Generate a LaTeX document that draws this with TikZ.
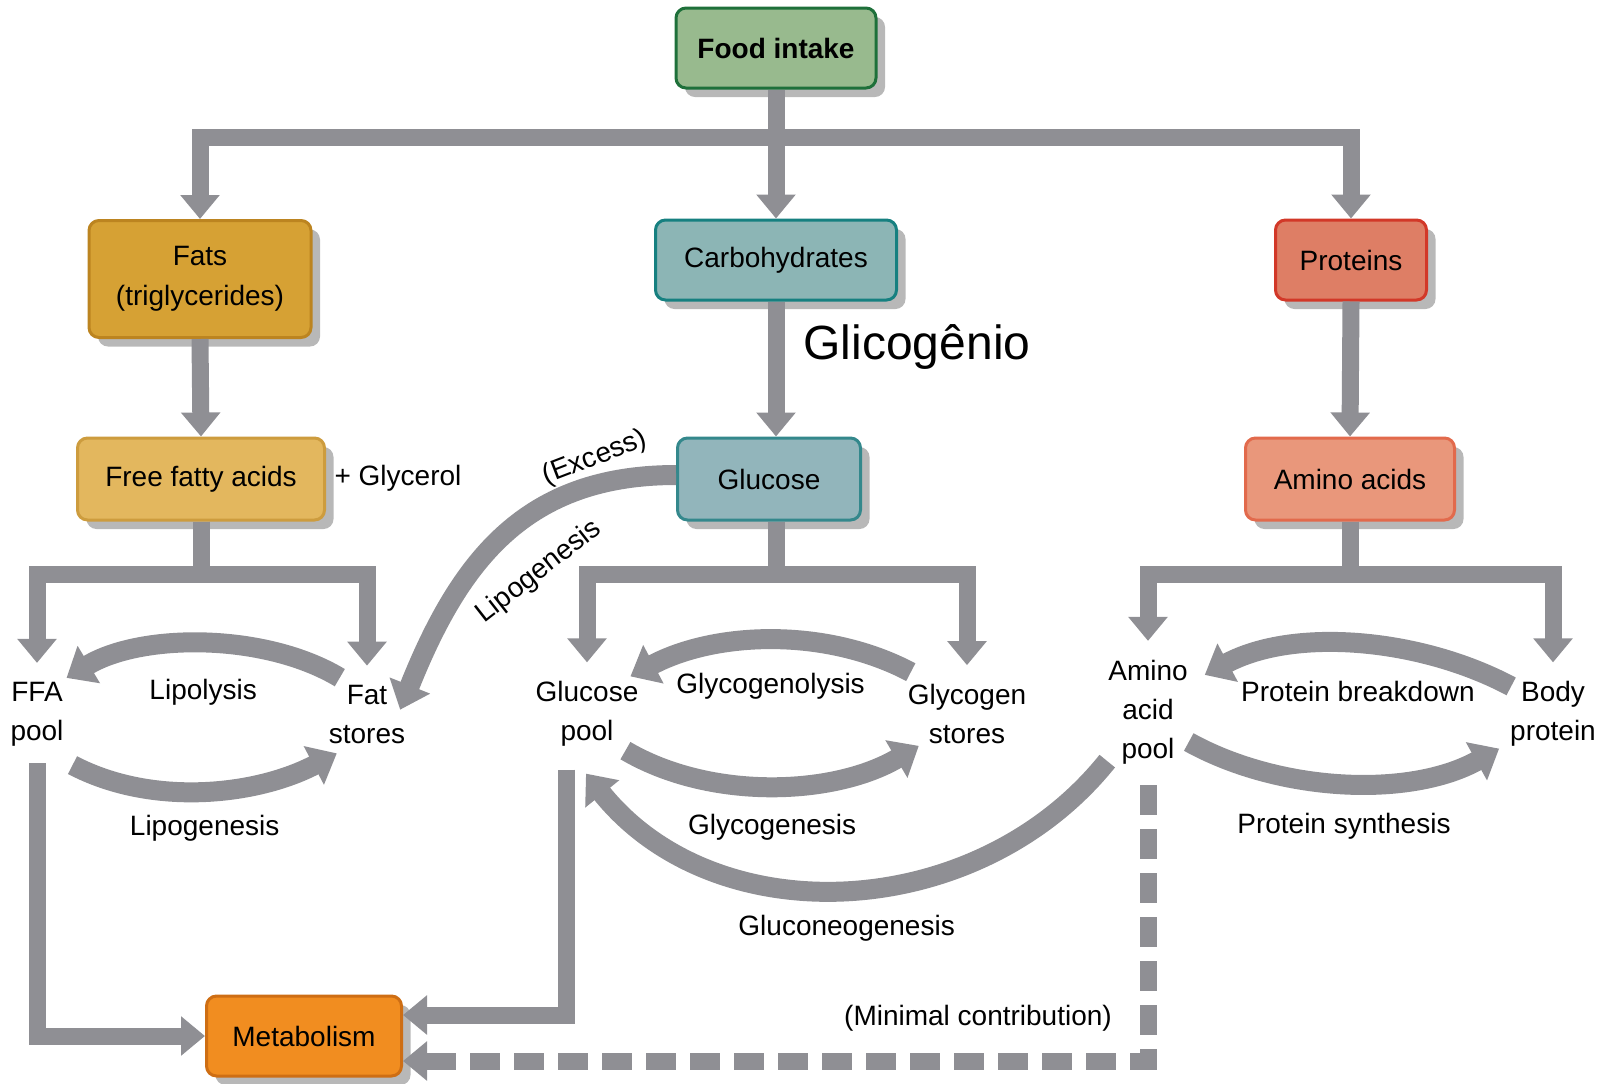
\documentclass[tikz,border=0pt]{standalone}
\usepackage{fontspec}
\setmainfont{Liberation Sans}
\usepackage{tikz}
\usetikzlibrary{arrows.meta,shadows}
\definecolor{flowgray}{RGB}{143,143,148}
\definecolor{foodfill}{RGB}{152,186,142}
\definecolor{fooddraw}{RGB}{30,112,58}
\definecolor{fatsfill}{RGB}{214,161,52}
\definecolor{fatsdraw}{RGB}{188,132,32}
\definecolor{ffafill}{RGB}{227,183,94}
\definecolor{ffadraw}{RGB}{205,156,62}
\definecolor{carbfill}{RGB}{140,181,181}
\definecolor{carbdraw}{RGB}{22,128,128}
\definecolor{glucfill}{RGB}{146,181,187}
\definecolor{glucdraw}{RGB}{52,136,140}
\definecolor{protfill}{RGB}{222,126,101}
\definecolor{protdraw}{RGB}{210,56,40}
\definecolor{aminofill}{RGB}{233,151,123}
\definecolor{aminodraw}{RGB}{226,106,76}
\definecolor{metabfill}{RGB}{241,141,32}
\definecolor{metabdraw}{RGB}{206,110,20}
\tikzset{box/.style={draw,rounded corners=5pt,line width=1.5pt,align=center,
    font=\fontsize{14}{20}\selectfont,
    drop shadow={shadow xshift=4.5pt,shadow yshift=-4.5pt,fill=black!35,opacity=.8}},
  lbl/.style={align=center,font=\fontsize{14}{19.5}\selectfont},
  thickflow/.style={draw=flowgray,line width=8.5pt,-{Triangle[width=19pt,length=12pt]}},
  arcflow/.style={draw=flowgray,line width=10pt,-{Triangle[width=21pt,length=13pt]}}}

\begin{document}
\begin{tikzpicture}[x=0.5pt,y=-0.5pt]
\useasboundingbox (0,0) rectangle (1612,1083);

\node[box,fill=foodfill,draw=fooddraw,minimum width=100pt,minimum height=40pt,
  font=\bfseries\fontsize{14}{20}\selectfont] (food) at (776,48) {Food intake};
\node[box,fill=fatsfill,draw=fatsdraw,minimum width=111pt,minimum height=58.5pt]
  (fats) at (200,279) {Fats\\(triglycerides)};
\node[box,fill=carbfill,draw=carbdraw,minimum width=120.5pt,minimum height=40pt]
  (carb) at (776,260) {Carbohydrates};
\node[box,fill=protfill,draw=protdraw,minimum width=75.5pt,minimum height=40pt]
  (prot) at (1351,260) {Proteins};
\node[box,fill=ffafill,draw=ffadraw,minimum width=123.5pt,minimum height=41pt]
  (fatty) at (201,479) {Free fatty acids};
\node[box,fill=glucfill,draw=glucdraw,minimum width=91.5pt,minimum height=41pt]
  (gluc) at (769,479) {Glucose};
\node[box,fill=aminofill,draw=aminodraw,minimum width=104.5pt,minimum height=41pt]
  (amino) at (1350,479) {Amino acids};
\node[box,fill=metabfill,draw=metabdraw,minimum width=97.5pt,minimum height=40pt]
  (metab) at (304,1036) {Metabolism};

\node[lbl] (ffa) at (37,714) {FFA\\pool};
\node[lbl] (fat) at (367,714) {Fat\\stores};
\node[lbl] (gpool) at (587,714) {Glucose\\pool};
\node[lbl] (glyc) at (967,714) {Glycogen\\stores};
\node[lbl] (apool) at (1148,712) {Amino\\acid\\pool};
\node[lbl] (body) at (1553,714) {Body\\protein};
\node[lbl] (glycerol) at (398,478) {+ Glycerol};
\node[lbl,font=\fontsize{24}{28}\selectfont] (glico) at (917,347) {Glicogênio};

\coordinate (top) at (776,137);
\draw[thickflow] (food.south) -- (carb.north);
\draw[thickflow] (top) -| (fats.north);
\draw[thickflow] (top) -| (prot.north);
\draw[thickflow] (fats.south) -- (fatty.north);
\draw[thickflow] (carb.south) -- (carb.south |- gluc.north);
\draw[thickflow] (prot.south) -- (amino.north);

\draw[thickflow,shorten >=6pt] (fatty.south) -- ++(0,53) -| (ffa.north);
\draw[thickflow,shorten >=6pt] (fatty.south) -- ++(0,53) -| (fat.north);
\draw[thickflow,shorten >=6pt] (carb.south |- gluc.south) -- ++(0,53) -| (gpool.north);
\draw[thickflow,shorten >=6pt] (carb.south |- gluc.south) -- ++(0,53) -| (glyc.north);
\draw[thickflow,shorten >=6pt] (amino.south) -- ++(0,53) -| (apool.north);
\draw[thickflow,shorten >=6pt] (amino.south) -- ++(0,53) -| (body.north);

\draw[arcflow] ([shift={(18,0)}]fat.north west) .. controls +(-75,-45) and +(75,-45)
  .. ([shift={(-4,3)}]ffa.north east) node[midway,lbl,below=9pt] (lipol) {Lipolysis};
\draw[arcflow] ([shift={(2,12)}]ffa.south east) .. controls +(80,42) and +(-80,42)
  .. ([shift={(15,3)}]fat.south west) node[midway,lbl,below=4pt] (lipog) {Lipogenesis};
\draw[arcflow] ([shift={(10,-5)}]glyc.north west) .. controls +(-85,-45) and +(85,-45)
  .. ([shift={(-15,2)}]gpool.north east) node[midway,lbl,below=8pt] (glyco) {Glycogenolysis};
\draw[arcflow] ([shift={(-20,-3)}]gpool.south east) .. controls +(85,50) and +(-85,50)
  .. ([shift={(18,-5)}]glyc.south west) node[midway,lbl,below=6pt] (glycog) {Glycogenesis};
\draw[arcflow] ([shift={(8,12)}]body.north west) .. controls +(-90,-48) and +(90,-48)
  .. ([shift={(10,22)}]apool.north east) node[midway,lbl,below=10pt] (pbreak) {Protein breakdown};
\draw[arcflow] ([shift={(-6,30)}]apool.east) .. controls +(90,50) and +(-90,50)
  .. ([shift={(-4,-5)}]body.south west) node[midway,lbl,below=7pt] (psyn) {Protein synthesis};
\draw[arcflow] ([shift={(6,-10)}]apool.south west) .. controls +(-130,162) and +(130,162)
  .. ([shift={(-1,20)}]gpool.south) node[midway,lbl,below=5pt] (gneo) {Gluconeogenesis};
\draw[arcflow] ([shift={(0,-4)}]gluc.west) .. controls +(-150,0) and +(60,-150)
  .. ([shift={(-12,32)}]fat.north east);
\node[lbl,rotate=21] (excess) at (595,458) {(Excess)};
\node[lbl,rotate=38] (lipog2) at (539,572) {Lipogenesis};

\draw[thickflow,shorten <=5pt] (ffa.south) |- (metab.west);
\draw[thickflow,shorten <=8pt] ([xshift=-10.5pt]gpool.south) |- ([yshift=10.5pt]metab.east);
\draw[thickflow,shorten <=7pt,dash pattern=on 15pt off 7pt]
  (apool.south) |- ([yshift=-12.5pt]metab.east);
\node[lbl] (minimal) at (978,1018) {(Minimal contribution)};
\end{tikzpicture}
\end{document}
